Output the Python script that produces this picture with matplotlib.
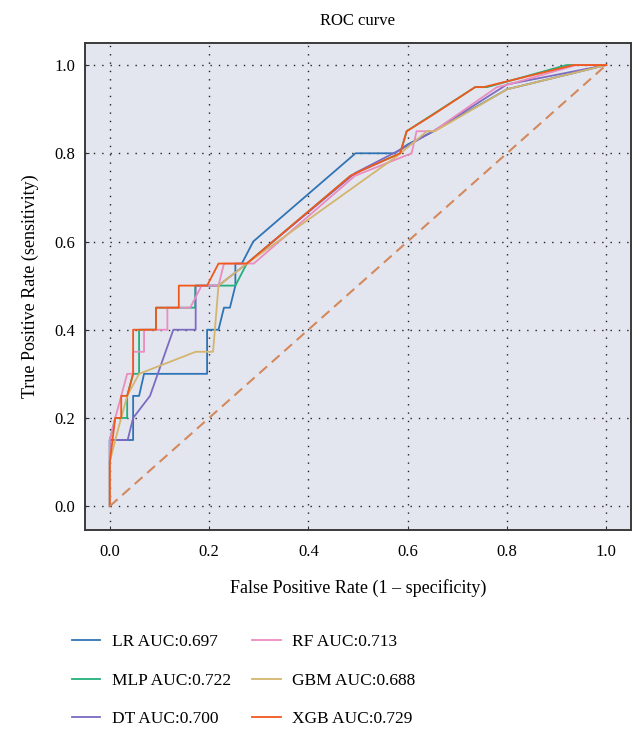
"""
ROC curves for six classifiers with AUC in the legend.
"""

import matplotlib
matplotlib.use("Agg")
import matplotlib.pyplot as plt

# Model names and AUC values
models = ["LR", "MLP", "DT", "RF", "GBM", "XGB"]
aucs = [0.697, 0.722, 0.700, 0.713, 0.688, 0.729]
colors = ["#2f74b5", "#22b07a", "#7b6bc2", "#ea8cc0", "#d4b56d", "#f2581c"]

# FPR / TPR points
lr_fpr = [0, 0, 0.047, 0.047, 0.059, 0.069, 0.196, 0.196, 0.219, 0.230, 0.242, 0.253,
          0.253, 0.266, 0.289, 0.495, 0.574, 0.600, 0.652, 0.800, 1.0]
lr_tpr = [0, 0.15, 0.15, 0.25, 0.25, 0.30, 0.30, 0.40, 0.40, 0.45, 0.45, 0.50,
          0.55, 0.55, 0.60, 0.80, 0.80, 0.82, 0.85, 0.945, 1.0]

mlp_fpr = [0, 0, 0.011, 0.035, 0.035, 0.047, 0.059, 0.059, 0.093, 0.093, 0.139, 0.139,
           0.172, 0.172, 0.196, 0.253, 0.276, 0.485, 0.505, 0.585, 0.598, 0.736,
           0.76, 0.92, 1.0]
mlp_tpr = [0, 0.15, 0.20, 0.20, 0.25, 0.30, 0.30, 0.40, 0.40, 0.45, 0.45, 0.45,
           0.45, 0.50, 0.50, 0.50, 0.55, 0.749, 0.76, 0.80, 0.85, 0.95,
           0.95, 1.0, 1.0]

dt_fpr = [0, 0, 0.036, 0.047, 0.081, 0.128, 0.173, 0.173, 0.219, 0.276, 0.494,
          0.585, 0.652, 0.800, 1.0]
dt_tpr = [0, 0.15, 0.15, 0.20, 0.25, 0.40, 0.40, 0.50, 0.50, 0.55, 0.755,
          0.808, 0.85, 0.956, 1.0]

rf_fpr = [0, 0, 0.011, 0.023, 0.035, 0.047, 0.047, 0.069, 0.069, 0.116, 0.116,
          0.162, 0.185, 0.219, 0.230, 0.290, 0.494, 0.608, 0.618, 0.652, 0.780,
          0.800, 0.940, 1.0]
rf_tpr = [0, 0.15, 0.20, 0.25, 0.30, 0.30, 0.35, 0.35, 0.40, 0.40, 0.45,
          0.45, 0.50, 0.50, 0.55, 0.55, 0.749, 0.80, 0.85, 0.85, 0.95,
          0.955, 1.0, 1.0]

gbm_fpr = [0, 0, 0.011, 0.035, 0.059, 0.173, 0.208, 0.219, 0.276, 0.578, 0.639,
           0.655, 0.800, 1.0]
gbm_tpr = [0, 0.10, 0.15, 0.25, 0.30, 0.35, 0.35, 0.50, 0.55, 0.793, 0.85,
           0.85, 0.945, 1.0]

xgb_fpr = [0, 0, 0.011, 0.023, 0.023, 0.035, 0.047, 0.047, 0.093, 0.093, 0.139,
           0.139, 0.196, 0.219, 0.276, 0.485, 0.505, 0.585, 0.598, 0.652, 0.736,
           0.753, 0.934, 1.0]
xgb_tpr = [0, 0.10, 0.20, 0.20, 0.25, 0.25, 0.30, 0.40, 0.40, 0.45, 0.45,
           0.50, 0.50, 0.55, 0.55, 0.749, 0.76, 0.80, 0.85, 0.888, 0.95,
           0.95, 1.0, 1.0]

curves = [(lr_fpr, lr_tpr), (mlp_fpr, mlp_tpr), (dt_fpr, dt_tpr),
          (rf_fpr, rf_tpr), (gbm_fpr, gbm_tpr), (xgb_fpr, xgb_tpr)]

ticks = [0.0, 0.2, 0.4, 0.6, 0.8, 1.0]

plt.rcParams.update({
    "font.family": ["Liberation Serif", "DejaVu Serif"],
    "font.size": 12,
})

fig = plt.figure(figsize=(6.37, 7.29), dpi=100)
ax = fig.add_axes([0.1334, 0.273, 0.8572, 0.668])
ax.set_facecolor("#e4e6ef")

for (fpr, tpr), name, auc, c in zip(curves, models, aucs, colors):
    ax.plot(fpr, tpr, color=c, linewidth=1.3, label=f"{name} AUC:{auc:.3f}")

# chance diagonal
ax.plot([0, 1], [0, 1], linestyle=(0, (5, 3)), color="#d3895c", linewidth=1.5)

ax.set_xlim(-0.05, 1.05)
ax.set_ylim(-0.054, 1.05)
ax.set_xticks(ticks)
ax.set_yticks(ticks)
ax.set_xticklabels([f"{t:.1f}" for t in ticks], fontsize=12)
ax.set_yticklabels([f"{t:.1f}" for t in ticks], fontsize=12)
ax.tick_params(direction="in", length=3, color="#333333")
ax.tick_params(axis="x", pad=10)
ax.tick_params(axis="y", pad=7)
ax.grid(True, linestyle=(0, (1, 5)), color="#222222", linewidth=1.0)
ax.set_axisbelow(True)
for s in ax.spines.values():
    s.set_color("#3a3a3a")
    s.set_linewidth(1.4)

ax.set_title("ROC curve", fontsize=12, pad=13)
ax.set_xlabel("False Positive Rate (1 – specificity)", fontsize=13, labelpad=14)
ax.set_ylabel("True Positive Rate (sensitivity)", fontsize=13, labelpad=11)

handles, labels = ax.get_legend_handles_labels()
fig.legend(handles, labels,
           loc="upper left", bbox_to_anchor=(0.088, 0.152), ncol=2,
           frameon=False, fontsize=12.5, handlelength=1.65, handletextpad=0.65,
           columnspacing=1.25, labelspacing=1.3)

fig.savefig("out.png", dpi=100)
